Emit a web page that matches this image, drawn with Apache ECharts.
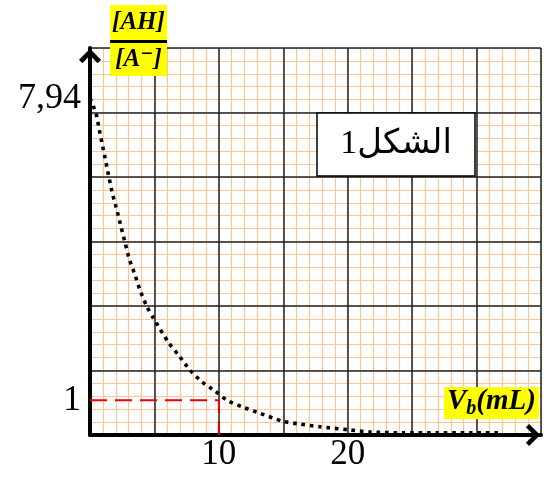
<!DOCTYPE html>
<html>
<head>
<meta charset="utf-8">
<script src="https://cdn.jsdelivr.net/npm/echarts@6/dist/echarts.min.js"></script>
<style>html,body{margin:0;padding:0;background:#fff}#c{width:550px;height:479px}</style>
</head>
<body>
<div id="c"></div>
<script>
// Data
const vb    = [0, 0.47, 0.72, 0.99, 1.24, 1.5, 1.78, 2.1, 2.41, 2.74, 3.05, 3.49, 3.88, 4.4, 4.89, 6.13, 6.91, 7.76, 8.69, 9.7, 10.63, 11.87, 13.19, 14.9, 16.3, 17.85, 20.02, 21.73, 24.29, 26.93, 29.5, 31.8];
const ratio = [7.94, 7.58, 7.21, 6.82, 6.46, 6.08, 5.70, 5.35, 4.98, 4.60, 4.24, 3.88, 3.53, 3.16, 2.90, 2.31, 2.02, 1.69, 1.42, 1.21, 1.0, 0.84, 0.70, 0.52, 0.45, 0.39, 0.32, 0.27, 0.25, 0.25, 0.25, 0.25];
const refX  = [0, 10, 10];
const refY  = [1, 1, 0.2];
const xTickLabels = [10, 20];
const yTickLabels = [1, 7.94];

const serif = "'Liberation Serif', 'DejaVu Serif', serif";
const orange = '#fbc596';
const major = '#222';
const chevron = 'path://M0,10 L10,0 L20,10 L17,13 L10,6 L3,13 Z';
const lbl = {fontFamily: serif, fontStyle: 'italic', fontWeight: 'bold', color: '#000'};

const chart = echarts.init(document.getElementById('c'));
chart.setOption({
  animation: false,
  grid: {left: 90, top: 48, width: 451, height: 387, containLabel: false},
  title: [
    {
      left: 110, top: 5, padding: 0, backgroundColor: '#ffff00', z: 10,
      text: '{n|[AH]}\n{b| }\n{d|[A⁻]}',
      textStyle: {rich: {
        n: Object.assign({}, lbl, {fontSize: 25, width: 57, height: 35, lineHeight: 35, align: 'center'}),
        b: {width: 57, height: 3, lineHeight: 3, fontSize: 3, backgroundColor: '#000'},
        d: Object.assign({}, lbl, {fontSize: 25, width: 57, height: 33, lineHeight: 33, align: 'center'})
      }}
    },
    {
      left: 444, top: 384, padding: [0, 3, 0, 3], backgroundColor: '#ffff00', z: 10,
      text: '{v|V}{s|b}{p|(mL)}',
      textStyle: {rich: {
        v: Object.assign({}, lbl, {fontSize: 29, lineHeight: 35}),
        s: Object.assign({}, lbl, {fontSize: 20, lineHeight: 20, verticalAlign: 'bottom'}),
        p: Object.assign({}, lbl, {fontSize: 29, lineHeight: 35})
      }}
    },
    {
      left: 317, top: 113, padding: 0, backgroundColor: '#fff', borderColor: '#000', borderWidth: 1.5, z: 10,
      text: '{a|الشكل1}',
      textStyle: {rich: {
        a: {fontFamily: "'Liberation Serif', 'DejaVu Sans', serif", fontWeight: 'normal', fontSize: 34, color: '#000', width: 158, height: 63, lineHeight: 63, align: 'center'}
      }}
    }
  ],
  xAxis: [
    { // data axis
      type: 'value', min: 0, max: 35, interval: 5, z: 3,
      axisLine: {onZero: false, lineStyle: {color: '#000', width: 4}, symbol: ['none', chevron], symbolSize: [22, 20], symbolOffset: [0, -8]},
      axisTick: {show: false},
      splitLine: {show: false},
      axisLabel: {customValues: xTickLabels, fontFamily: serif, fontSize: 35, color: '#000', margin: 2}
    },
    { // minor grid
      type: 'value', min: 0, max: 35, interval: 1, z: 0,
      axisLine: {show: false}, axisTick: {show: false}, axisLabel: {show: false},
      splitLine: {show: true, lineStyle: {color: orange, width: 1.2}}
    },
    { // major grid
      type: 'value', min: 0, max: 35, interval: 5, z: 1,
      axisLine: {show: false}, axisTick: {show: false}, axisLabel: {show: false},
      splitLine: {show: true, lineStyle: {color: major, width: 1.5}}
    }
  ],
  yAxis: [
    { // data axis
      type: 'value', min: 0.2, max: 9.09, z: 3,
      axisLine: {onZero: false, lineStyle: {color: '#000', width: 4}, symbol: ['none', chevron], symbolSize: [22, 20], symbolOffset: [0, -8]},
      axisTick: {show: false},
      splitLine: {show: false},
      axisLabel: {customValues: yTickLabels, fontFamily: serif, fontSize: 36, color: '#000', margin: 9,
        formatter: v => String(v).replace('.', ',')}
    },
    {
      type: 'value', min: 0, max: 30, interval: 1, z: 0,
      axisLine: {show: false}, axisTick: {show: false}, axisLabel: {show: false},
      splitLine: {show: true, lineStyle: {color: orange, width: 1.2}}
    },
    {
      type: 'value', min: 0, max: 30, interval: 5, z: 1,
      axisLine: {show: false}, axisTick: {show: false}, axisLabel: {show: false},
      splitLine: {show: true, lineStyle: {color: major, width: 1.5}}
    }
  ],
  series: [
    {
      type: 'line', xAxisIndex: 0, yAxisIndex: 0, z: 5,
      data: vb.map((x, i) => [x, ratio[i]]),
      smooth: 0.25, showSymbol: false,
      lineStyle: {color: '#000', width: 3.6, type: [3.6, 4.8], cap: 'butt'}
    },
    {
      type: 'line', xAxisIndex: 0, yAxisIndex: 0, z: 4,
      data: refX.map((x, i) => [x, refY[i]]),
      showSymbol: false,
      lineStyle: {color: '#e8000b', width: 2, type: [17, 8]}
    }
  ]
});
</script>
</body>
</html>
